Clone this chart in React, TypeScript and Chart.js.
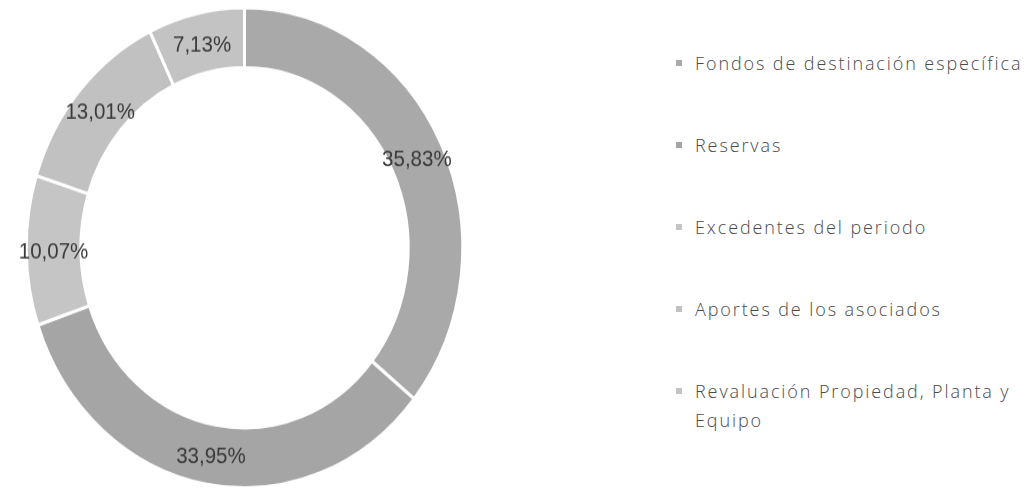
import React, { useEffect, useRef } from 'react';
import { Chart, registerables } from 'chart.js';

Chart.register(...registerables);

// ---- data ----
const categories = [
  'Fondos de destinación específica',
  'Reservas',
  'Excedentes del periodo',
  'Aportes de los asociados',
  'Revaluación Propiedad, Planta y Equipo',
];
const values = [35.83, 33.95, 10.07, 13.01, 7.13];
const sliceColors = ['#a9a9a9', '#a5a5a5', '#c5c5c5', '#c1c1c1', '#c3c3c3'];

const formatPct = (v: number) => v.toFixed(2).replace('.', ',') + '%';

const STRETCH_Y = 1.1;

const pctLabelPlugin = {
  id: 'pctLabels',
  afterDatasetsDraw(chart: any) {
    const ctx = chart.ctx;
    const meta = chart.getDatasetMeta(0);
    ctx.save();
    ctx.font = '20.5px "Liberation Sans", Arial, sans-serif';
    ctx.fillStyle = '#3a3a3a';
    ctx.textAlign = 'center';
    ctx.textBaseline = 'middle';
    meta.data.forEach((arc: any, i: number) => {
      const p = arc.tooltipPosition(false);
      ctx.fillText(formatPct(values[i]), p.x, p.y + 2);
    });
    ctx.restore();
  },
};

export default function App() {
  const canvasRef = useRef<HTMLCanvasElement | null>(null);

  useEffect(() => {
    document.body.style.margin = '0';
    const canvas = canvasRef.current;
    if (!canvas) return;
    const chart = new Chart(canvas, {
      type: 'doughnut',
      data: {
        labels: categories,
        datasets: [
          {
            data: values,
            backgroundColor: sliceColors,
            borderColor: '#ffffff',
            borderWidth: 3,
          },
        ],
      },
      options: {
        responsive: false,
        animation: false,
        devicePixelRatio: 1,
        cutout: '75%',
        layout: { padding: { left: 24.5, right: 24.5, top: 5.5, bottom: 0 } },
        plugins: {
          legend: { display: false },
          tooltip: { enabled: false },
        },
      },
      plugins: [pctLabelPlugin],
    });
    return () => chart.destroy();
  }, []);

  const legendTop = 63;
  const legendStep = 82;
  const lineH = 29;

  return (
    <div style={{ position: 'relative', width: 1035, height: 489, overflow: 'hidden', background: '#fff' }}>
      <div
        style={{
          position: 'absolute',
          left: 0,
          top: 0,
          transform: `scaleY(${STRETCH_Y})`,
          transformOrigin: '0 0',
        }}
      >
        <canvas ref={canvasRef} width={489} height={445} />
      </div>
      {categories.map((c, i) => (
        <div
          key={c}
          style={{
            position: 'absolute',
            left: 676,
            top: legendTop + i * legendStep - lineH / 2,
            width: 359,
            display: 'flex',
            alignItems: 'flex-start',
            fontFamily: '"Open Sans", sans-serif',
            fontWeight: 300,
            fontSize: 18,
            letterSpacing: '1.9px',
            lineHeight: `${lineH}px`,
            color: '#4a4a4a',
            whiteSpace: 'normal',
          }}
        >
          <span
            style={{
              display: 'inline-block',
              width: 6,
              height: 6,
              marginTop: (lineH - 6) / 2,
              marginRight: 13,
              flex: '0 0 auto',
              background: sliceColors[i],
            }}
          />
          <span style={{ width: 340 }}>{c}</span>
        </div>
      ))}
    </div>
  );
}
